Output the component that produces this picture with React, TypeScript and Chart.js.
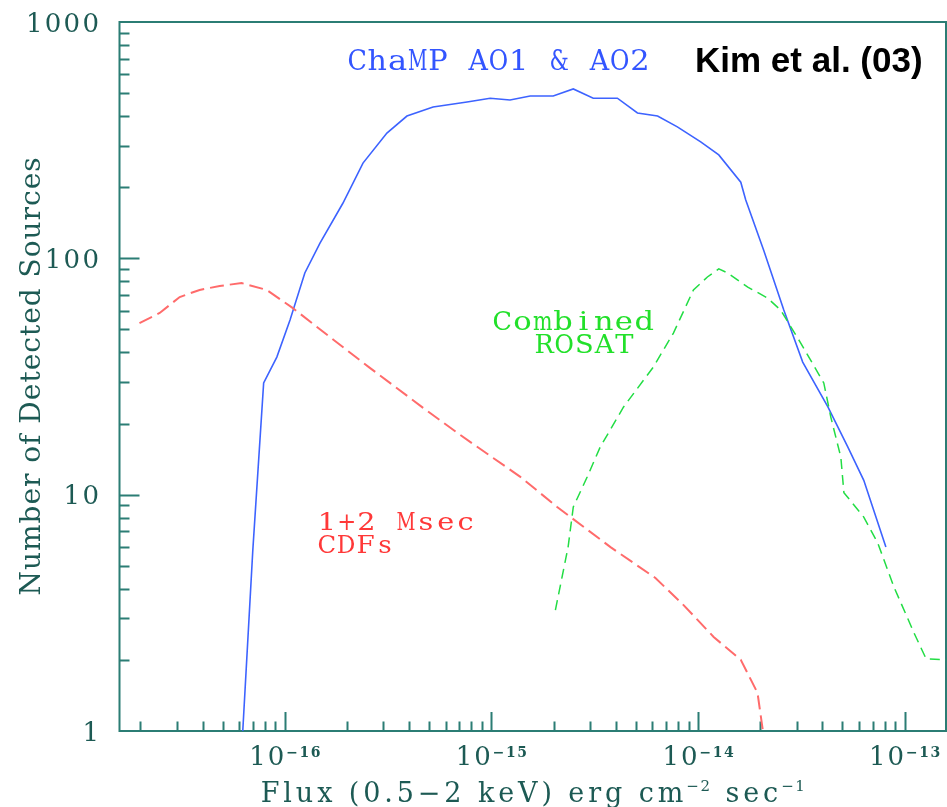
import React, { useEffect, useRef } from "react";
import { Chart, registerables } from "chart.js";

Chart.register(...registerables);

const W = 947;
const H = 807;

// ChaMP AO1 & AO2 (solid blue)
const champFlux = [
  6.26e-17, 7.0e-17, 7.9e-17, 9.15e-17, 1.06e-16, 1.25e-16, 1.48e-16, 1.91e-16,
  2.39e-16, 3.12e-16, 3.9e-16, 5.22e-16, 7.62e-16, 9.86e-16, 1.23e-15, 1.54e-15,
  1.99e-15, 2.49e-15, 3.11e-15, 4.07e-15, 5.09e-15, 6.37e-15, 7.94e-15, 1.03e-14,
  1.26e-14, 1.61e-14, 1.7e-14, 2.08e-14, 2.6e-14, 3.21e-14, 4.25e-14, 5.31e-14,
  6.34e-14, 8.11e-14,
];
const champCounts = [
  1, 5.8, 29.7, 38.2, 54.8, 86.7, 116, 171,
  253, 339, 400, 437, 459, 476, 468, 486,
  486, 521, 476, 476, 412, 400, 360, 311,
  274, 210, 177, 108, 60.4, 36.4, 23.5, 15.9,
  11.5, 6.0,
];

// 1+2 Msec CDFs (dashed red)
const cdfFlux = [
  1.98e-17, 2.48e-17, 3.1e-17, 3.87e-17, 4.84e-17, 6.18e-17, 8.18e-17, 1.09e-16,
  1.65e-16, 2.58e-16, 4.67e-16, 7.06e-16, 1.02e-15, 1.38e-15, 2.08e-15, 3.77e-15,
  6.22e-15, 8.51e-15, 1.19e-14, 1.61e-14, 1.94e-14, 2.06e-14,
];
const cdfCounts = [
  53.2, 58.7, 68.6, 73.5, 76.4, 78.6, 73.5, 61.7,
  46.5, 34.4, 23.3, 17.9, 14.3, 11.9, 8.87, 6.0,
  4.44, 3.41, 2.5, 2.0, 1.45, 1,
];

// Combined ROSAT (dashed green)
const rosatFlux = [
  2.04e-15, 2.35e-15, 2.49e-15, 2.91e-15, 3.36e-15, 4.36e-15, 6.08e-15, 7.6e-15,
  9.5e-15, 1.11e-14, 1.26e-14, 1.39e-14, 1.74e-14, 2.17e-14, 2.51e-14, 3.14e-14,
  4.06e-14, 4.39e-14, 4.91e-14, 5.08e-14, 6.34e-14, 7.41e-14, 8.87e-14, 1.11e-13,
  1.27e-13, 1.6e-13,
];
const rosatCounts = [
  3.25, 6.0, 8.87, 11.9, 15.9, 23.5, 34.7, 48.3,
  73.5, 83.4, 90.2, 86.7, 75.6, 67.9, 60.4, 43.8,
  29.7, 21.3, 14.4, 10.2, 8.04, 6.24, 4.07, 2.6,
  2.02, 2.0,
];

// Axes
const xMin = Math.pow(10, -16.8);
const xMax = Math.pow(10, -12.8);
const yMin = 1;
const yMax = 1000;
const yTickValues = [1, 10, 100, 1000];
const yTickLabels = ["1", "10", "100", "1000"];
const xTickValues = [1e-16, 1e-15, 1e-14, 1e-13];
const xTickExponents = ["\u221216", "\u221215", "\u221214", "\u221213"];
const xDecades = [1e-17, 1e-16, 1e-15, 1e-14, 1e-13];
const yDecades = [1, 10, 100];
const minorMultipliers = [2, 3, 4, 5, 6, 7, 8, 9];

const AXIS = "#2b7d74";
const LABEL = "#1d5a54";
const SERIF = "'DejaVu Serif', serif";

function toPoints(xs: number[], ys: number[]) {
  return xs.map((x, i) => ({ x, y: ys[i] }));
}

function spacedWidth(ctx: CanvasRenderingContext2D, text: string, ls: number) {
  let w = 0;
  for (const ch of text) w += ctx.measureText(ch).width + ls;
  return w - ls;
}

function drawSpaced(ctx: CanvasRenderingContext2D, text: string, x: number, y: number, ls: number) {
  ctx.textAlign = "left";
  let cx = x;
  for (const ch of text) {
    ctx.fillText(ch, cx, y);
    cx += ctx.measureText(ch).width + ls;
  }
}

function drawMono(ctx: CanvasRenderingContext2D, text: string, x: number, y: number, cell: number, sx: number) {
  ctx.textAlign = "center";
  let i = 0;
  for (const ch of text) {
    if (ch !== " ") {
      ctx.save();
      ctx.translate(x + cell * i + cell / 2, y);
      ctx.scale(sx, 1);
      ctx.fillText(ch, 0, 0, (cell * 0.96) / sx);
      ctx.restore();
    }
    i++;
  }
}

const framePlugin = {
  id: "frameTicks",
  beforeDatasetsDraw(chart: any) {
    const { ctx, chartArea: a, scales } = chart;
    const xs = scales.x;
    const ys = scales.y;
    ctx.save();
    ctx.strokeStyle = AXIS;
    ctx.lineWidth = 2;
    ctx.strokeRect(a.left, a.top, a.right - a.left, a.bottom - a.top);
    ctx.beginPath();
    for (const d of xDecades) {
      for (const m of [1, ...minorMultipliers]) {
        const v = d * m;
        if (v < xMin * 1.0001 || v > xMax) continue;
        const px = Math.round(xs.getPixelForValue(v)) + 0.5;
        const len = m === 1 ? 19 : 9.5;
        ctx.moveTo(px, a.bottom);
        ctx.lineTo(px, a.bottom - len);
      }
    }
    for (const d of yDecades) {
      for (const m of [1, ...minorMultipliers, 10]) {
        const v = d * m;
        if (v <= yMin * 1.0001 || v >= yMax * 0.9999) continue;
        const py = Math.round(ys.getPixelForValue(v)) + 0.5;
        const len = m === 1 || m === 10 ? 20 : 10;
        ctx.moveTo(a.left, py);
        ctx.lineTo(a.left + len, py);
      }
    }
    ctx.stroke();
    ctx.restore();
  },
  afterDatasetsDraw(chart: any) {
    const { ctx, chartArea: a, scales } = chart;
    const xs = scales.x;
    const ys = scales.y;
    ctx.save();
    ctx.textBaseline = "alphabetic";

    // y tick labels
    ctx.fillStyle = LABEL;
    ctx.font = `26px ${SERIF}`;
    yTickValues.forEach((v, i) => {
      const py = ys.getPixelForValue(v);
      const w = spacedWidth(ctx, yTickLabels[i], 2.3);
      drawSpaced(ctx, yTickLabels[i], 99 - w, py + 9.5, 2.3);
    });

    // x tick labels 10^n
    xTickValues.forEach((v, i) => {
      const px = xs.getPixelForValue(v);
      ctx.font = `26px ${SERIF}`;
      const w1 = spacedWidth(ctx, "10", 2);
      ctx.font = `bold 14px ${SERIF}`;
      const w2 = spacedWidth(ctx, xTickExponents[i], 1.5);
      const start = px - (w1 + 2 + w2) / 2;
      ctx.font = `26px ${SERIF}`;
      drawSpaced(ctx, "10", start, a.bottom + 34, 2);
      ctx.font = `bold 14px ${SERIF}`;
      drawSpaced(ctx, xTickExponents[i], start + w1 + 2, a.bottom + 26, 1.5);
    });

    // x title
    const parts = [
      { t: "Flux (0.5\u22122 keV) erg cm", sup: false },
      { t: "\u22122", sup: true },
      { t: " sec", sup: false },
      { t: "\u22121", sup: true },
    ];
    const fontMain = `27px ${SERIF}`;
    const fontSup = `15px ${SERIF}`;
    const lsMain = 3.9;
    const lsSup = 1.5;
    let total = 0;
    parts.forEach((p, i) => {
      ctx.font = p.sup ? fontSup : fontMain;
      total += spacedWidth(ctx, p.t, p.sup ? lsSup : lsMain);
      if (i < parts.length - 1) total += 3;
    });
    let cx = (a.left + a.right) / 2 - total / 2;
    const base = 802;
    parts.forEach((p) => {
      ctx.font = p.sup ? fontSup : fontMain;
      const ls = p.sup ? lsSup : lsMain;
      drawSpaced(ctx, p.t, cx, p.sup ? base - 11 : base, ls);
      cx += spacedWidth(ctx, p.t, ls) + 3;
    });

    // y title
    ctx.save();
    ctx.translate(40, (a.top + a.bottom) / 2);
    ctx.rotate(-Math.PI / 2);
    ctx.font = `28px ${SERIF}`;
    const yt = "Number of Detected Sources";
    const yw = spacedWidth(ctx, yt, 1);
    drawSpaced(ctx, yt, -yw / 2, 0, 1);
    ctx.restore();

    // in-plot annotations
    ctx.fillStyle = "#3355ff";
    ctx.font = `28px ${SERIF}`;
    drawMono(ctx, "ChaMP AO1 & AO2", 347, 70, 20.2, 1.15);

    ctx.fillStyle = "#22e02a";
    ctx.font = `26px ${SERIF}`;
    drawMono(ctx, "Combined", 492, 330, 20.3, 1.18);
    drawMono(ctx, "ROSAT", 534, 353, 20.1, 1.05);

    ctx.fillStyle = "#ff3838";
    ctx.font = `25px ${SERIF}`;
    drawMono(ctx, "1+2 Msec", 317, 530, 19.8, 1.15);
    drawMono(ctx, "CDFs", 317, 553, 19.4, 1.05);

    ctx.fillStyle = "#000000";
    ctx.font = `bold 35px 'Liberation Sans', Arial, sans-serif`;
    ctx.textAlign = "left";
    ctx.fillText("Kim et al. (03)", 695, 72);

    ctx.restore();
  },
};

export default function App() {
  const canvasRef = useRef<HTMLCanvasElement | null>(null);

  useEffect(() => {
    const canvas = canvasRef.current;
    if (!canvas) return;
    const chart = new Chart(canvas, {
      type: "line",
      data: {
        datasets: [
          {
            label: "1+2 Msec CDFs",
            data: toPoints(cdfFlux, cdfCounts),
            borderColor: "#ff6b6b",
            borderWidth: 2,
            borderDash: [14, 6],
            pointRadius: 0,
            tension: 0,
            fill: false,
          },
          {
            label: "Combined ROSAT",
            data: toPoints(rosatFlux, rosatCounts),
            borderColor: "#22dd44",
            borderWidth: 1.5,
            borderDash: [10, 6],
            pointRadius: 0,
            tension: 0,
            fill: false,
          },
          {
            label: "ChaMP AO1 & AO2",
            data: toPoints(champFlux, champCounts),
            borderColor: "#3d63ff",
            borderWidth: 1.6,
            pointRadius: 0,
            tension: 0,
            fill: false,
          },
        ],
      },
      options: {
        responsive: false,
        devicePixelRatio: 1,
        animation: false,
        layout: { padding: { left: 119.5, right: 1, top: 22, bottom: 76 } },
        plugins: {
          legend: { display: false },
          tooltip: { enabled: false },
        },
        scales: {
          x: { type: "logarithmic", min: xMin, max: xMax, display: false },
          y: { type: "logarithmic", min: yMin, max: yMax, display: false },
        },
      },
      plugins: [framePlugin],
    } as any);
    return () => chart.destroy();
  }, []);

  return (
    <div style={{ position: "fixed", left: 0, top: 0, width: W, height: H, background: "#ffffff" }}>
      <canvas ref={canvasRef} width={W} height={H} style={{ display: "block" }} />
    </div>
  );
}
